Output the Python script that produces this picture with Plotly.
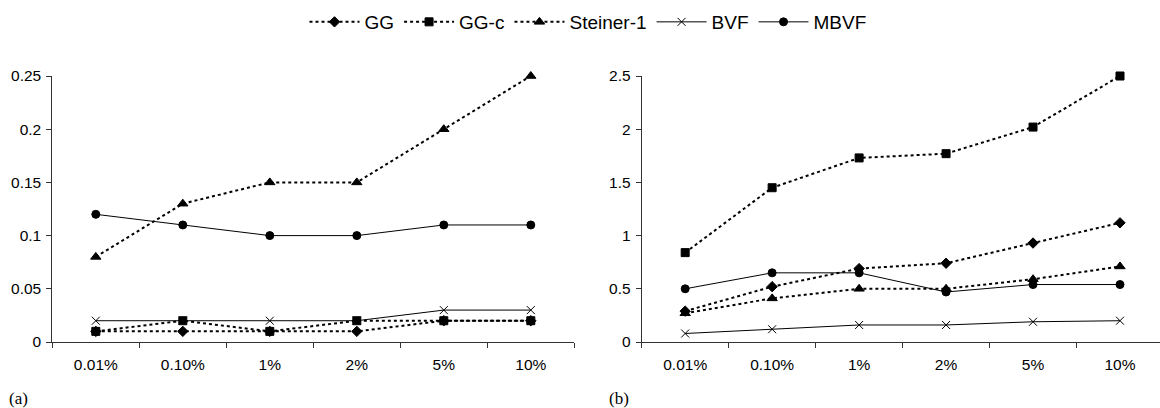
import plotly.graph_objects as go

categories = ["0.01%", "0.10%", "1%", "2%", "5%", "10%"]

# Panel (a)
a_gg = [0.01, 0.01, 0.01, 0.01, 0.02, 0.02]
a_ggc = [0.01, 0.02, 0.01, 0.02, 0.02, 0.02]
a_steiner = [0.08, 0.13, 0.15, 0.15, 0.20, 0.25]
a_bvf = [0.02, 0.02, 0.02, 0.02, 0.03, 0.03]
a_mbvf = [0.12, 0.11, 0.10, 0.10, 0.11, 0.11]

# Panel (b)
b_gg = [0.29, 0.52, 0.69, 0.74, 0.93, 1.12]
b_ggc = [0.84, 1.45, 1.73, 1.77, 2.02, 2.50]
b_steiner = [0.27, 0.41, 0.50, 0.50, 0.59, 0.71]
b_bvf = [0.08, 0.12, 0.16, 0.16, 0.19, 0.20]
b_mbvf = [0.50, 0.65, 0.65, 0.47, 0.54, 0.54]

series_names = ["GG", "GG-c", "Steiner-1", "BVF", "MBVF"]
y_ticks_a = [0, 0.05, 0.1, 0.15, 0.2, 0.25]
y_ticks_b = [0, 0.5, 1, 1.5, 2, 2.5]

W, H = 1160, 408
PT, PB = 76, 342  # plot top / bottom in px
paper_h = H - PT - (H - PB)

styles = {
    "GG": dict(dash="dot", width=2, symbol="diamond", size=8),
    "GG-c": dict(dash="dot", width=2, symbol="square", size=8),
    "Steiner-1": dict(dash="dot", width=2, symbol="triangle-up", size=9),
    "BVF": dict(dash="solid", width=1, symbol="x-thin-open", size=8),
    "MBVF": dict(dash="solid", width=1, symbol="circle", size=8),
}

fig = go.Figure()

panels = [
    ("x", "y", [a_gg, a_ggc, a_steiner, a_bvf, a_mbvf], True),
    ("x2", "y2", [b_gg, b_ggc, b_steiner, b_bvf, b_mbvf], False),
]
for xa, ya, data, show in panels:
    for name, vals in zip(series_names, data):
        s = styles[name]
        fig.add_trace(go.Scatter(
            x=categories, y=vals, name=name, xaxis=xa, yaxis=ya,
            mode="lines+markers", showlegend=show, cliponaxis=False,
            line=dict(color="black", width=s["width"], dash=s["dash"]),
            marker=dict(symbol=s["symbol"], size=s["size"], color="black",
                        line=dict(color="black", width=1)),
        ))

tickfont = dict(family="Liberation Sans, Arial, sans-serif", size=15.5, color="black")

xcommon = dict(
    type="category", tickson="boundaries", ticks="outside", ticklen=5,
    tickcolor="#333", showline=True, linecolor="#333", linewidth=1,
    showgrid=False, zeroline=False, tickfont=tickfont, automargin=False,
    ticklabelstandoff=8,
)
ycommon = dict(
    ticks="outside", ticklen=5, tickcolor="#333", showline=True,
    linecolor="#333", linewidth=1, showgrid=False, zeroline=False,
    tickfont=tickfont, automargin=False, ticklabelstandoff=2,
)

fig.update_layout(
    width=W, height=H,
    margin=dict(l=0, r=0, t=PT, b=H - PB),
    paper_bgcolor="white", plot_bgcolor="white",
    xaxis=dict(domain=[52.3 / W, 574.3 / W], range=[-0.5, 5.5], **xcommon),
    xaxis2=dict(domain=[641.7 / W, 1.0], range=[-0.5, 5.46], anchor="y2", **xcommon),
    yaxis=dict(range=[0, 0.25], tickvals=y_ticks_a, anchor="x", **ycommon),
    yaxis2=dict(range=[0, 2.5], tickvals=y_ticks_b, anchor="x2", **ycommon),
    legend=dict(
        orientation="h", x=588 / W, xanchor="center",
        y=1 + (PT - 22) / paper_h, yanchor="middle",
        font=dict(family="Liberation Sans, Arial, sans-serif", size=19, color="black"),
        itemwidth=50, tracegroupgap=0,
    ),
    showlegend=True,
)

labfont = dict(family="Liberation Serif, Times New Roman, serif", size=17, color="black")
for txt, px in [("(a)", 7), ("(b)", 607)]:
    fig.add_annotation(
        text=txt, xref="paper", yref="paper", x=px / W, y=-(398 - PB) / paper_h,
        xanchor="left", yanchor="middle", showarrow=False, font=labfont,
    )

fig.write_html(
    "out.html",
    config={"displayModeBar": False},
    post_script="document.body.style.margin='0';document.body.style.overflow='hidden';",
)
